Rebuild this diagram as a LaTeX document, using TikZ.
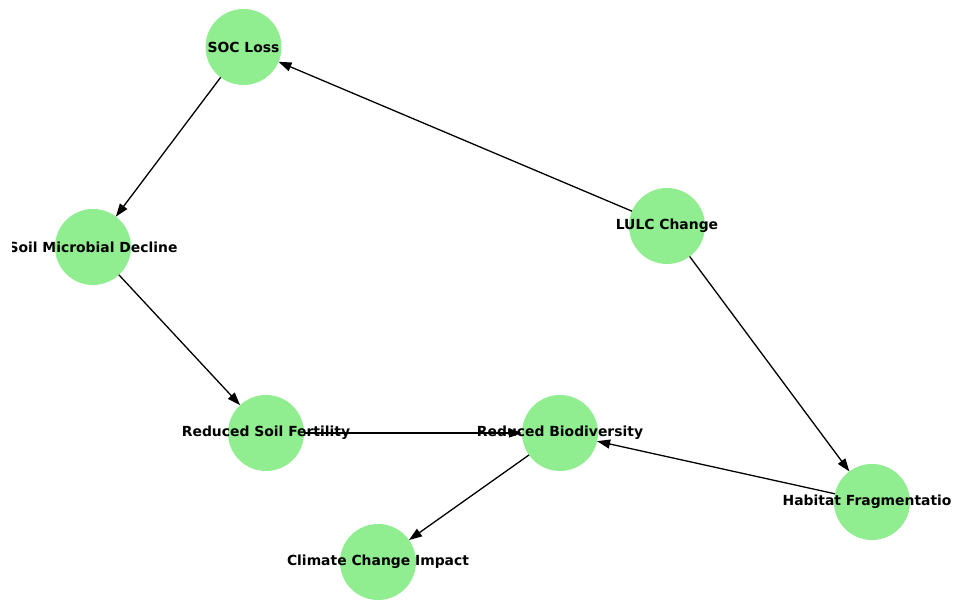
\documentclass[tikz,border=0pt]{standalone}
\usepackage{fontspec}
\setmainfont{DejaVu Sans}
\usetikzlibrary{arrows.meta}
\definecolor{nodegreen}{RGB}{144,238,144}
\tikzset{
  circ/.style={circle, fill=nodegreen, draw=none, minimum size=76bp, inner sep=0pt, outer sep=0pt},
  lab/.style={font=\fontsize{13.9bp}{16bp}\selectfont\bfseries, text=black, inner sep=0pt},
  edge/.style={draw=black, line width=1.3bp, -{Triangle[length=13bp,width=9bp]}}
}
\begin{document}
\begin{tikzpicture}[x=1bp,y=1bp]
\useasboundingbox (0,0) rectangle (954,600);
\fill[white] (0,0) rectangle (954,600);
\clip (12,0) rectangle (950,600);
\node[circ] (soc) at (243.5,553) {};
\node[circ] (smd) at (93,353) {};
\node[circ] (lulc) at (667,374) {};
\node[circ] (rsf) at (266,167) {};
\node[circ] (rb) at (560,167) {};
\node[circ] (hf) at (872,98) {};
\node[circ] (cci) at (378,38) {};
\draw[edge] (lulc) -- (soc);
\draw[edge] (soc) -- (smd);
\draw[edge] (smd) -- (rsf);
\draw[edge] (rsf) -- (rb);
\draw[edge] (lulc) -- (hf);
\draw[edge] (hf) -- (rb);
\draw[edge] (rb) -- (cci);
\node[lab] (socT) at (soc) {SOC Loss};
\node[lab] (smdT) at (smd) {Soil Microbial Decline};
\node[lab] (lulcT) at (lulc) {LULC Change};
\node[lab] (rsfT) at (rsf) {Reduced Soil Fertility};
\node[lab] (rbT) at (rb) {Reduced Biodiversity};
\node[lab] (hfT) at (hf) {Habitat Fragmentation};
\node[lab] (cciT) at (cci) {Climate Change Impact};
\end{tikzpicture}
\end{document}
